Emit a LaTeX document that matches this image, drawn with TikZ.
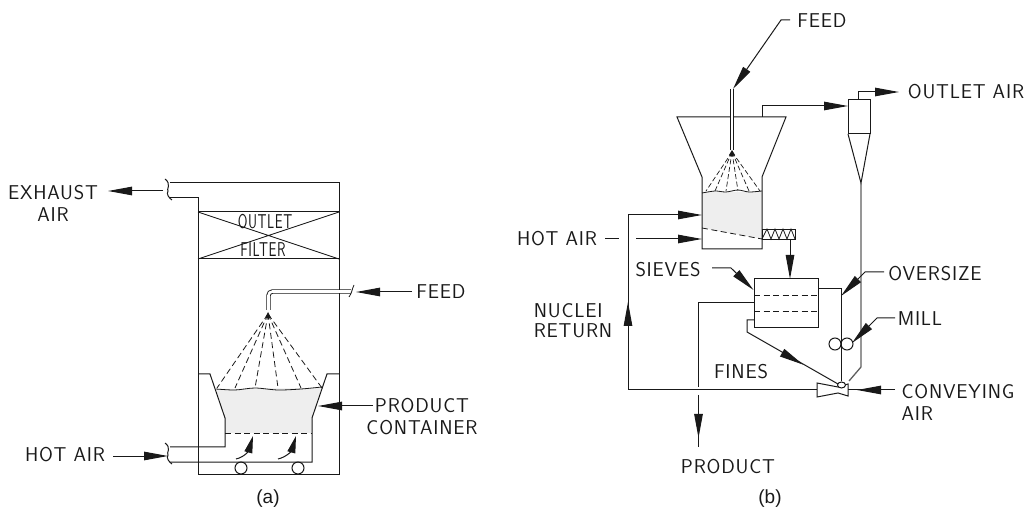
\documentclass[tikz,border=0pt]{standalone}
\usepackage{fontspec}
\usepackage{xcolor}
\usetikzlibrary{arrows.meta, positioning, calc}
\setsansfont[LetterSpace=4]{Latin Modern Sans}
\newfontfamily\captionfont{Liberation Sans}
\definecolor{cline}{RGB}{25,25,25}
\definecolor{cstipple}{RGB}{238,238,238}
\definecolor{cgrayline}{RGB}{95,95,95}
\tikzset{
    wall/.style={draw=cline, line width=1pt, line join=miter},
    flowline/.style={wall, -{Triangle[length=24pt, width=8.5pt]}},
    smallhead/.style={wall, -{Triangle[length=17pt, width=8pt]}},
    spray/.style={wall, dashed, dash pattern=on 6pt off 3.5pt, line width=0.8pt},
    tag/.style={font=\sffamily\fontsize{20}{22}\selectfont, text=cline, inner sep=0pt},
    thintag/.style={font=\sffamily\fontsize{20}{22}\selectfont, text=cline, inner sep=0pt, xscale=0.7, transform shape},
    panel/.style={font=\captionfont\fontsize{19}{22}\selectfont, text=cline, inner sep=0pt},
    tube/.style={draw=cline, line width=0.9pt, double=white, double distance=2.6pt},
}
\begin{document}
\begin{tikzpicture}[x=1pt, y=-1pt]
    \useasboundingbox (0, 0) rectangle (1031, 510);

    % ----- panel (a) -----
    % Product bed
    \fill[cstipple] (216, 389) -- (322, 388) -- (312, 418) -- (312, 433) -- (225, 433) -- (225, 418) -- cycle;

    % Casing
    \draw[wall] (170, 183) -- (339, 183) -- (339, 474) -- (198, 474) -- (198, 198) -- (170, 198);
    \draw[wall] (165, 179) .. controls (172, 184) and (166, 190) .. (168, 191) .. controls (166, 194) and (169, 198) .. (172, 200);

    % Filter
    \draw[wall] (198, 212) -- (339, 212) (198, 259) -- (339, 259);
    \draw[wall, line width=0.8pt] (198, 212) -- (339, 259) (198, 259) -- (339, 212);
    \node[thintag] (outletText) at (265, 222) {OUTLET};
    \node[thintag] (filterText) at (263, 250) {FILTER};

    % Container
    \draw[wall] (198, 374) -- (210, 374) -- (225, 418) -- (225, 447) -- (170, 447);
    \draw[wall] (170, 462) -- (312, 462) -- (312, 418) -- (327, 374) -- (339, 374);
    \draw[wall] (165, 443) .. controls (172, 448) and (166, 453) .. (168, 455) .. controls (166, 458) and (169, 462) .. (172, 464);
    \draw[wall, line width=0.8pt] plot[smooth] coordinates {(216, 389) (235, 390) (255, 388) (278, 390) (301, 389) (322, 387)};
    \draw[spray] (225, 433) -- (312, 433);

    % Wheels
    \draw[wall] (241, 468) circle (6);
    \draw[wall] (298, 468) circle (6);

    % Air through the screen
    \draw[smallhead] (236, 459) .. controls (245, 457) and (249, 450) .. (253, 436);
    \draw[smallhead] (278, 459) .. controls (287, 457) and (292, 450) .. (296, 436);

    % Feed pipe and spray
    \draw[tube, rounded corners=4pt] (351, 291.5) -- (268.5, 291.5) -- (268.5, 310);
    \draw[wall, line width=0.8pt] (354, 285) .. controls (352, 289) and (352, 293) .. (349, 297);
    \coordinate (nozzleA) at (268, 314);
    \fill[cline] (268, 312) -- (270.5, 317) -- (265.5, 317) -- cycle;
    \foreach \xend in {217, 235, 255, 278, 301, 322} {
        \draw[spray] (nozzleA) -- (\xend, 388);
    }

    % Labels
    \node[tag, align=center] (exhaustLabel) at (53, 203.5) {EXHAUST\\AIR};
    \coordinate (exhaustStart) at (163, 191);
    \coordinate (exhaustTip) at (108, 191);
    \draw[flowline] (exhaustStart) -- (exhaustTip);

    \node[tag] (hotairLabel) at (65, 455) {HOT AIR};
    \coordinate (hotairStart) at (113, 456);
    \coordinate (hotairTip) at (168, 456);
    \draw[flowline] (hotairStart) -- (hotairTip);

    \node[tag] (feedLabelA) at (441, 292) {FEED};
    \coordinate (feedStartA) at (412, 292);
    \coordinate (feedTipA) at (356, 292);
    \draw[flowline] (feedStartA) -- (feedTipA);

    \node[tag, align=center] (containerLabel) at (422, 417) {PRODUCT\\CONTAINER};
    \coordinate (containerStart) at (373, 406);
    \coordinate (containerTip) at (318, 406);
    \draw[flowline] (containerStart) -- (containerTip);

    \node[panel] (captionA) at (268, 499) {(a)};

    % ----- panel (b) -----
    % Product bed
    \fill[cstipple] (702, 192) -- (762, 192) -- (762, 239) -- (702, 228) -- cycle;

    % Chamber
    \draw[wall] (677, 117) -- (786, 117) -- (762, 177) -- (762, 249) -- (702, 249) -- (702, 177) -- cycle;
    \draw[spray] (702, 228) -- (762, 239);
    \draw[wall, line width=0.8pt] plot[smooth] coordinates {(702, 193) (715, 191) (726, 192) (738, 190) (749, 192) (762, 191)};

    % Feed pipe and spray
    \draw[tube] (732, 89) -- (732, 150);
    \coordinate (nozzleB) at (732, 152);
    \fill[cline] (732, 150) -- (735, 155) -- (729, 155) -- cycle;
    \foreach \xend in {706, 715, 726, 738, 749, 760} {
        \draw[spray, line width=0.7pt, dash pattern=on 5pt off 2.5pt] (nozzleB) -- (\xend, 191);
    }

    % Discharge screw
    \draw[wall, line width=0.8pt] (762, 229) rectangle (795, 239);
    \draw[wall, line width=0.8pt] (762, 239) -- (767, 229) -- (771, 239) -- (775, 229) -- (779, 239) -- (783, 229) -- (787, 239) -- (791, 229) -- (795, 239);
    \coordinate (screwOut) at (790, 239);
    \coordinate (sieveIn) at (790, 279);
    \draw[flowline] (screwOut) -- (sieveIn);

    % Cyclone
    \draw[wall] (848, 100) rectangle (870, 134);
    \draw[wall] (848, 134) -- (861, 183) -- (870, 134);
    \coordinate (ductOut) at (762, 117);
    \coordinate (cycloneIn) at (848, 106);
    \draw[flowline] (ductOut) |- (cycloneIn);
    \coordinate (cycloneTop) at (858, 100);
    \coordinate (outletTip) at (899, 92);
    \draw[flowline] (cycloneTop) |- (outletTip);
    \node[tag] (outletLabel) at (966, 92) {OUTLET AIR};

    % Cyclone return leg
    \draw[draw=cgrayline, line width=1.3pt] (861, 183) -- (861, 367) -- (849, 381);

    % Sieves
    \node[draw=cline, line width=1pt, minimum width=64pt, minimum height=49pt, inner sep=0pt] (sieveBox) at (786, 303.5) {};
    \draw[spray] (754, 295) -- (818, 295) (754, 311) -- (818, 311);

    % Oversize and mill
    \draw[wall] (818, 289) -- (841, 289) -- (841, 381);
    \draw[wall] (835, 344) circle (6);
    \draw[wall] (847, 344) circle (6);

    % Fines
    \draw[wall] (754, 320) -- (747, 320) -- (747, 332) -- (838, 384);
    \draw[flowline] (782, 352.6) -- (803, 364.6);

    % Product take off
    \coordinate (productTip) at (698.5, 438);
    \draw[wall] (754, 303) -- (698.5, 303) -- (698.5, 387) (698.5, 395) -- (698.5, 447);
    \draw[flowline] (698.5, 416) -- (productTip);

    % Venturi
    \draw[wall] (817, 383) -- (838, 387) -- (848, 384) -- (848, 396) -- (838, 393) -- (817, 397) -- cycle;
    \draw[wall, fill=white] (841.5, 385) ellipse (4 and 3);

    % Nuclei return
    \coordinate (venturiIn) at (817, 390);
    \coordinate (chamberIn) at (702, 215);
    \draw[flowline] (venturiIn) -- (628, 390) -- (628, 215) -- (chamberIn);
    \draw[flowline] (628, 324) -- (628, 302);

    % Labels
    \node[tag] (hotairLabelB) at (557, 239) {HOT AIR};
    \draw[wall] (605, 239) -- (619, 239);
    \coordinate (hotairStartB) at (636, 239);
    \coordinate (hotairTipB) at (702, 239);
    \draw[flowline] (hotairStartB) -- (hotairTipB);

    \node[tag] (feedLabelB) at (822, 21) {FEED};
    \coordinate (feedBendB) at (781, 20);
    \coordinate (feedTipB) at (733, 89);
    \draw[flowline] (790, 20) -- (feedBendB) -- (feedTipB);

    \node[tag, align=left] (nucleiLabel) at (573, 321) {NUCLEI\\[-2pt]RETURN};

    \node[tag] (sievesLabel) at (668, 270) {SIEVES};
    \coordinate (sievesBend) at (731, 268);
    \draw[flowline] (712, 268) -- (sievesBend) -- (sieveBox.north west |- 0, 290);

    \node[tag] (oversizeLabel) at (935, 274) {OVERSIZE};
    \coordinate (oversizeBend) at (865, 272);
    \coordinate (oversizeTip) at (841, 296);
    \draw[flowline] (884, 272) -- (oversizeBend) -- (oversizeTip);

    \node[tag] (millLabel) at (920, 319) {MILL};
    \coordinate (millBend) at (877, 318);
    \coordinate (millTip) at (852, 343);
    \draw[flowline] (895, 318) -- (millBend) -- (millTip);

    \node[tag] (finesLabel) at (741, 372) {FINES};

    \node[tag, align=left] (conveyingLabel) at (958, 402.5) {CONVEYING\\AIR};
    \draw[wall] (895, 390) -- (848, 390);
    \draw[flowline] (880, 390) -- (857, 390);

    \node[tag] (productLabel) at (728, 467) {PRODUCT};

    \node[panel] (captionB) at (770, 499) {(b)};
\end{tikzpicture}
\end{document}
